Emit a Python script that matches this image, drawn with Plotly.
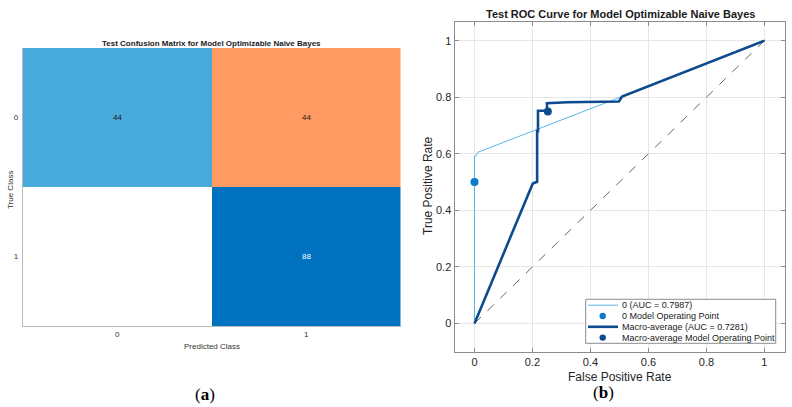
import plotly.graph_objects as go

# ---------------- data ----------------
cm_classes = ["0", "1"]
cm_counts = [[44, 44],
             [0, 88]]

roc0_fpr = [0, 0, 0.004, 0.011, 0.503, 1.0]
roc0_tpr = [0, 0.592, 0.592, 0.605, 0.80, 1.0]

macro_fpr = [0, 0.201, 0.216, 0.216, 0.219, 0.219, 0.25, 0.25, 0.32, 0.498, 0.509, 1.0]
macro_tpr = [0, 0.495, 0.501, 0.68, 0.68, 0.752, 0.752, 0.779, 0.782, 0.785, 0.802, 1.0]

op0 = ([0.0], [0.5])
op_macro = ([0.253], [0.749])

diag = ([0, 1], [0, 1])

roc_ticks = [0, 0.2, 0.4, 0.6, 0.8, 1]
roc_ticktext = ["0", "0.2", "0.4", "0.6", "0.8", "1"]

legend_labels = ["0 (AUC = 0.7987)", "0 Model Operating Point",
                 "Macro-average (AUC = 0.7281)", "Macro-average Model Operating Point"]

W, H = 792, 407
def px(x):
    return x / W
def py(y):
    return 1 - y / H

C_LIGHT = "#5BB4EA"
C_OP0 = "#0A7BCB"
C_MACRO = "#0E4A8E"

fig = go.Figure()

# ---------------- confusion matrix ----------------
mx = max(max(r) for r in cm_counts)
zcol = [[(v / mx if i == j else -v / mx) for j, v in enumerate(row)] for i, row in enumerate(cm_counts)]
fig.add_trace(go.Heatmap(
    z=zcol, x=cm_classes, y=cm_classes,
    colorscale=[[0, "#E0621E"], [0.25, "#FE9A62"], [0.5, "#FFFFFF"],
                [0.75, "#48A9DB"], [1, "#0072C0"]],
    zmin=-1, zmax=1, showscale=False, hoverinfo="skip",
    xaxis="x", yaxis="y"))

for i, row in enumerate(cm_counts):
    for j, v in enumerate(row):
        if v == 0:
            continue
        fig.add_annotation(x=cm_classes[j], y=cm_classes[i], xref="x", yref="y",
                           text=str(v), showarrow=False,
                           font=dict(size=8, family="Liberation Sans",
                                     color="white" if (i == j and v / mx > 0.7) else "#1a1a1a"))

# ---------------- ROC ----------------
fig.add_trace(go.Scatter(x=diag[0], y=diag[1], mode="lines",
                         line=dict(color="#666", width=1, dash="dash"),
                         xaxis="x2", yaxis="y2", showlegend=False, hoverinfo="skip"))
fig.add_trace(go.Scatter(x=roc0_fpr, y=roc0_tpr, mode="lines",
                         line=dict(color=C_LIGHT, width=1),
                         xaxis="x2", yaxis="y2", showlegend=False))
fig.add_trace(go.Scatter(x=macro_fpr, y=macro_tpr, mode="lines",
                         line=dict(color=C_MACRO, width=2.6),
                         xaxis="x2", yaxis="y2", showlegend=False))
fig.add_trace(go.Scatter(x=op0[0], y=op0[1], mode="markers",
                         marker=dict(color=C_OP0, size=8),
                         xaxis="x2", yaxis="y2", showlegend=False))
fig.add_trace(go.Scatter(x=op_macro[0], y=op_macro[1], mode="markers",
                         marker=dict(color=C_MACRO, size=8),
                         xaxis="x2", yaxis="y2", showlegend=False))

tick_font = dict(family="Liberation Sans", size=11, color="#262626")
cm_tick_font = dict(family="Liberation Sans", size=8, color="#333333")
fig.update_layout(
    width=W, height=H, margin=dict(l=0, r=0, t=0, b=0),
    paper_bgcolor="white", plot_bgcolor="white", showlegend=False,
    xaxis=dict(domain=[px(22.7), px(400.7)], showgrid=False, zeroline=False,
               tickfont=cm_tick_font,
               showline=True, linecolor="#BBBBBB", linewidth=1, mirror=False,
               ticks="", anchor="y", fixedrange=True),
    yaxis=dict(domain=[py(326), py(48)], showgrid=False, zeroline=False,
               autorange="reversed",
               tickfont=cm_tick_font,
               showline=True, linecolor="#BBBBBB", linewidth=1,
               ticks="", ticklabelstandoff=2, anchor="x", fixedrange=True),
    xaxis2=dict(domain=[px(454.5), px(785)], range=[-0.069, 1.071],
                tickvals=roc_ticks, ticktext=roc_ticktext,
                showgrid=True, gridcolor="#E6E6E6", zeroline=False,
                showline=True, linecolor="#8C8C8C", linewidth=1, mirror="ticks",
                ticks="inside", ticklen=4, tickcolor="#8C8C8C",
                tickfont=tick_font, anchor="y2"),
    yaxis2=dict(domain=[py(351.7), py(21.7)], range=[-0.1, 1.067],
                tickvals=roc_ticks, ticktext=roc_ticktext,
                showgrid=True, gridcolor="#E6E6E6", zeroline=False,
                showline=True, linecolor="#8C8C8C", linewidth=1, mirror="ticks",
                ticks="inside", ticklen=4, tickcolor="#8C8C8C",
                tickfont=tick_font, anchor="x2"),
)

def ann(x, y, text, size, bold=False, angle=0, family="Liberation Sans", color="#262626",
        xanchor="center"):
    fig.add_annotation(x=px(x), y=py(y), xref="paper", yref="paper",
                       text=f"<b>{text}</b>" if bold else text, showarrow=False,
                       textangle=angle, xanchor=xanchor, yanchor="middle",
                       font=dict(size=size, family=family, color=color))

# confusion matrix labels
ann(211.7, 43, "Test Confusion Matrix for Model Optimizable Naive Bayes", 8, bold=True, color="#1a1a1a")
ann(211.7, 346, "Predicted Class", 8, color="#333")
ann(10, 190, "True Class", 8, angle=-90, color="#333")

# ROC labels
ann(620, 14, "Test ROC Curve for Model Optimizable Naive Bayes", 11, bold=True, color="#1a1a1a")
ann(620, 377, "False Positive Rate", 12)
ann(428, 186, "True Positive Rate", 12, angle=-90)

# panel labels
ann(205, 394, "(<b>a</b>)", 17, family="Liberation Serif", color="black")
ann(603, 392, "(<b>b</b>)", 17, family="Liberation Serif", color="black")

# ---------------- manual legend ----------------
lx0, lx1, ly0, ly1 = 585.7, 775.7, 299.3, 343.3
fig.add_shape(type="rect", xref="paper", yref="paper",
              x0=px(lx0), x1=px(lx1), y0=py(ly1), y1=py(ly0),
              line=dict(color="#8C8C8C", width=1), fillcolor="white", layer="above")
rows = [305.2, 316.0, 326.8, 337.6]
styles = [("line", C_LIGHT, 1), ("dot", C_OP0, 0), ("line", C_MACRO, 2.6), ("dot", C_MACRO, 0)]
for lab, yy, (kind, col, w) in zip(legend_labels, rows, styles):
    if kind == "line":
        fig.add_shape(type="line", xref="paper", yref="paper",
                      x0=px(588), x1=px(618), y0=py(yy), y1=py(yy),
                      line=dict(color=col, width=w), layer="above")
    else:
        r = 3.2
        fig.add_shape(type="circle", xref="paper", yref="paper",
                      x0=px(602.7 - r), x1=px(602.7 + r), y0=py(yy + r), y1=py(yy - r),
                      line=dict(color=col, width=0), fillcolor=col, layer="above")
    ann(620, yy, lab, 9, xanchor="left", color="#1a1a1a")

fig.write_html("out.html")
